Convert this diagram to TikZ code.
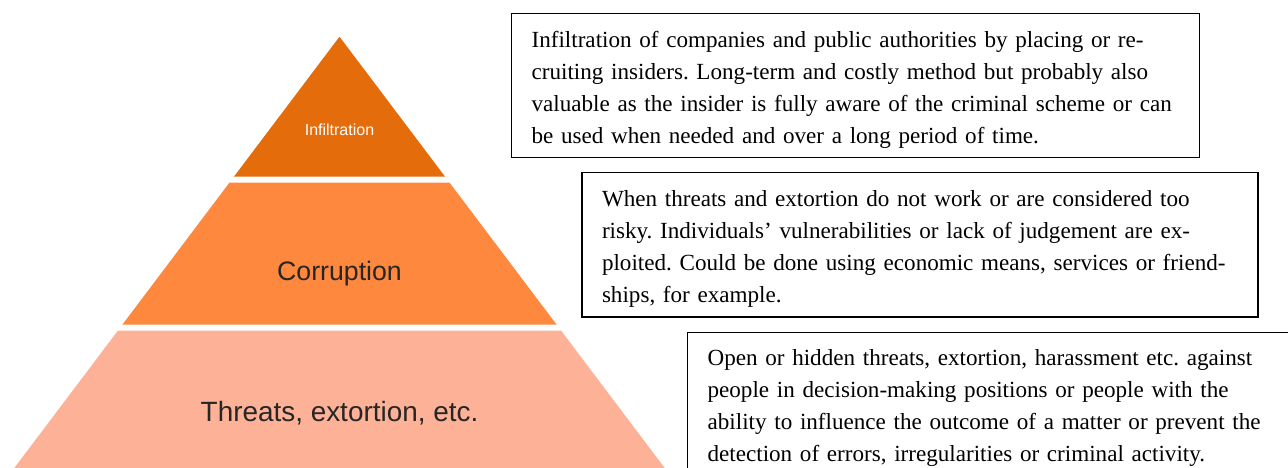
\documentclass[tikz,border=0pt]{standalone}
\usepackage{fontspec}
\setmainfont{Liberation Serif}
\newfontfamily\tierfont{Liberation Sans}
\usetikzlibrary{positioning}
\definecolor{tiertop}{HTML}{E46C0A}
\definecolor{tiermid}{HTML}{FE883D}
\definecolor{tierlow}{HTML}{FDB196}
\definecolor{tiertext}{HTML}{262626}
\frenchspacing
\tikzset{note/.style={draw, line width=1.2pt, anchor=north west,
         inner xsep=20pt, inner ysep=0pt, text width=#1, align=left,
         text height=33.4pt, text depth=110.6pt,
         font=\fontsize{23.1}{32}\selectfont},
         note/.default={648pt},
         tier/.style={anchor=base, text=tiertext,
         font=\tierfont\fontsize{26.7}{30}\selectfont}}

\begin{document}
\begin{tikzpicture}[x=1pt,y=-1pt]
      \useasboundingbox (0,0) rectangle (1288,468);
      \clip (0,0) rectangle (1288,468);
      \fill[tiertop] (339.5,36.7) -- (445.1,176.7) -- (233.9,176.7) -- cycle;
      \fill[tiermid] (229.4,182.7) -- (449.6,182.7) -- (556.5,324.5) -- (122.5,324.5) -- cycle;
      \fill[tierlow] (118,330.5) -- (561,330.5) -- (664.7,468) -- (14.3,468) -- cycle;

      \node[tier, text=white, font=\tierfont\fontsize{16}{18}\selectfont] (infil) at (339.5,136) {Infiltration};
      \node[tier] (corrupt) at (339.5,280.7) {Corruption};
      \node[tier, font=\tierfont\fontsize{27.9}{30}\selectfont] (threats) at (339.5,421.7) {Threats, extortion, etc.};

      \node[note] (infilnote) at (511,13.3) {Infiltration of companies and public authorities by placing or re-\\
        cruiting insiders. Long-term and costly method but probably also\\
        valuable as the insider is fully aware of the criminal scheme or can\\
        be used when needed and over a long period of time.};
      \node[note=636pt] (corruptnote) at (581.4,172.3) {When threats and extortion do not work or are considered too\\
        risky. Individuals’ vulnerabilities or lack of judgement are ex-\\
        ploited. Could be done using economic means, services or friend-\\
        ships, for example.};
      \node[note=640pt] (threatsnote) at (687,331.7) {Open or hidden threats, extortion, harassment etc. against\\
        people in decision-making positions or people with the\\
        ability to influence the outcome of a matter or prevent the\\
        detection of errors, irregularities or criminal activity.};
    \end{tikzpicture}
\end{document}
